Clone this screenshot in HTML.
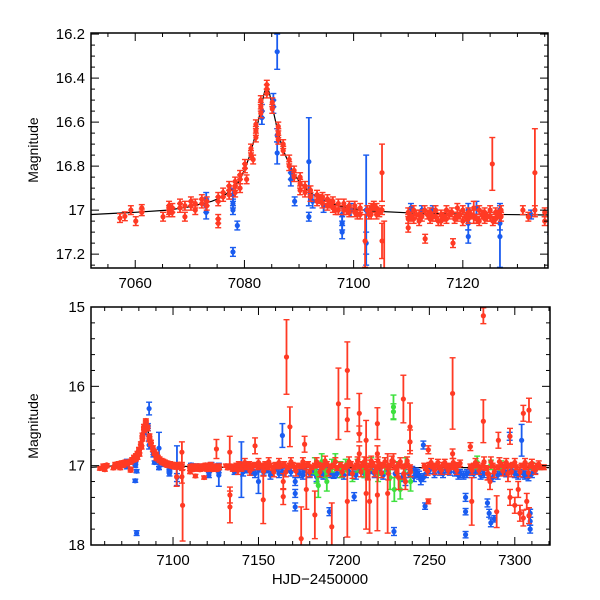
<!DOCTYPE html>
<html><head><meta charset="utf-8"><style>
html,body{margin:0;padding:0;background:#fff;}
svg{display:block;font-family:"Liberation Sans",sans-serif;}
</style></head><body>
<svg id="chart" width="600" height="600" xmlns="http://www.w3.org/2000/svg">
<defs>
<clipPath id="clipTop"><rect x="91" y="33" width="457" height="235"/></clipPath>
<clipPath id="clipBot"><rect x="91" y="307" width="459" height="238"/></clipPath>
</defs>
<g id="topPanel"></g>
<g id="botPanel"></g>
<text x="320" y="584" font-size="15" text-anchor="middle">HJD−2450000</text>
<text transform="translate(38,150) rotate(-90)" font-size="14" text-anchor="middle">Magnitude</text>
<text transform="translate(38,426) rotate(-90)" font-size="14" text-anchor="middle">Magnitude</text>
</svg>
<script>
const modelT=[7052,7060,7066,7070,7074,7076,7078,7079,7080,7081,7082,7083,7083.6,7084.1,7084.6,7085.2,7086,7087,7088,7089,7090,7092,7094,7097,7100,7104,7110,7120,7136,7200,7320];
const modelM=[17.02,17.01,17.0,16.985,16.96,16.94,16.9,16.87,16.82,16.75,16.66,16.54,16.47,16.43,16.47,16.54,16.63,16.72,16.78,16.83,16.87,16.92,16.95,16.98,16.995,17.005,17.012,17.018,17.022,17.025,17.025];
const redPts=[[7057.2,17.036,.02],[7058.1,17.028,.02],[7059.2,17.0,.02],[7060.1,17.05,.02],[7061.2,16.99,.015],[7061.2,17.01,.015],
[7065.1,17.03,.02],[7066.2,16.98,.02],[7066.2,17.0,.02],[7066.2,17.01,.02],[7066.8,16.99,.02],[7066.8,17.01,.02],[7068.2,16.97,.02],[7068.2,16.99,.02],[7069.1,17.03,.02],[7069.1,16.98,.02],[7070.2,16.96,.02],[7070.2,16.98,.02],[7071.0,16.97,.02],[7071.0,17.0,.02],[7072.2,16.95,.02],[7072.2,16.97,.02],[7073.1,16.96,.02],[7073.1,16.98,.02],
[7075.2,16.94,.02],[7075.2,16.96,.02],[7075.2,17.04,.02],[7075.2,17.06,.02],[7076.1,16.92,.02],[7076.1,16.94,.02],[7077.2,16.89,.02],[7077.2,16.91,.02],[7077.2,16.93,.02],[7078.3,16.87,.02],[7078.3,16.89,.02],[7078.3,16.92,.02],[7079.2,16.84,.02],[7079.2,16.86,.02],[7079.2,16.90,.02],[7080.1,16.79,.02],[7080.1,16.81,.02],[7080.4,16.86,.02],[7081.2,16.72,.02],[7081.2,16.75,.02],[7081.6,16.77,.02],[7082.1,16.61,.02],[7082.1,16.64,.02],[7082.1,16.67,.02],[7083.0,16.50,.02],[7083.0,16.53,.02],[7083.0,16.56,.02],[7084.1,16.43,.02],[7084.1,16.45,.02],[7084.1,16.47,.02],[7085.1,16.51,.02],[7085.1,16.54,.02],[7086.2,16.62,.02],[7086.2,16.65,.02],[7086.2,16.68,.02],[7087.1,16.70,.02],[7087.1,16.73,.02],[7088.2,16.77,.02],[7088.2,16.80,.02],[7089.1,16.82,.02],[7089.1,16.85,.02],[7090.2,16.85,.02],[7090.2,16.88,.02],[7090.2,16.91,.02],[7091.1,16.89,.02],[7091.1,16.92,.02],[7092.1,16.91,.02],[7092.1,16.94,.02],[7093.3,16.93,.02],[7093.3,16.96,.02],[7094.3,16.94,.02],[7094.3,16.97,.02],[7095.2,16.95,.02],[7095.2,16.98,.02],[7096.2,16.96,.02],[7096.2,16.99,.02],[7097.2,16.97,.02],[7097.2,17.0,.02],[7098.2,16.97,.02],[7098.2,17.0,.02],[7099.2,16.98,.02],[7099.2,17.01,.02],[7100.2,16.98,.02],[7100.2,17.01,.02],[7101.2,16.99,.02],[7101.2,17.02,.02],[7102.1,17.14,.12],[7102.5,17.0,.02],[7103.2,16.99,.02],[7103.2,17.02,.02],[7104.2,16.99,.02],[7104.2,17.02,.02],[7105.2,16.83,.13],[7105.2,17.0,.02],[7105.2,17.14,.08],[7105.6,17.5,.45],
[7093.8,16.95,.02],[7095.7,16.97,.02],[7096.7,17.0,.02],[7098.7,17.0,.02],[7100.7,17.02,.02],[7102.8,17.02,.02],[7103.7,16.98,.02],[7104.7,17.01,.02],
[7110,17.01,.02],[7110,17.04,.02],[7110,17.08,.02],[7111,17.0,.02],[7111,17.04,.02],[7112,17.02,.02],[7112,17.05,.02],[7113,17.0,.02],[7113.1,17.13,.02],[7114,17.01,.02],[7114,17.04,.02],[7115,17.0,.02],[7115,17.03,.02],[7116,17.02,.02],[7116,17.05,.02],[7117,17.0,.02],[7117,17.04,.02],[7118,17.01,.02],[7118.2,17.15,.02],[7119,16.99,.02],[7119,17.03,.02],[7120,17.0,.02],[7120,17.05,.02],[7121,17.01,.02],[7121,17.04,.02],[7122,16.99,.03],[7122,17.03,.03],[7123,17.0,.02],[7123,17.05,.02],[7124,17.01,.02],[7124,17.04,.02],[7125,17.0,.02],[7125,17.03,.02],[7125.4,16.79,.12],[7126,17.01,.02],[7126,17.04,.02],[7127,17.0,.02],[7127,17.03,.02],
[7110.5,17.03,.02],[7111.5,17.02,.02],[7112.5,17.03,.02],[7113.5,17.02,.02],[7114.5,17.03,.02],[7115.5,17.05,.02],[7116.5,17.03,.02],[7117.5,17.02,.02],[7118.5,17.04,.02],[7119.5,17.02,.02],[7120.5,17.03,.02],[7121.5,17.02,.02],[7122.5,17.04,.02],[7123.5,17.02,.02],[7124.5,17.03,.02],[7125.5,17.05,.02],[7126.5,17.02,.02],
[7131,17.0,.02],[7132,17.03,.02],[7133.2,16.83,.2],[7133.2,17.0,.02],[7133.3,17.37,.1],[7133.3,17.52,.2],[7135,17.01,.02],[7135,17.05,.02],
[7137,17.0,.03],[7137,17.03,.03],[7138.5,16.98,.03],[7140,17.01,.03],[7140,17.04,.03],[7141.5,16.99,.03],[7143,17.02,.03],[7144.5,16.98,.03],[7146,17.0,.03],[7146,17.03,.03],[7148,16.75,.1],[7148,16.99,.03],[7149.5,17.02,.03],[7151,17.0,.03],[7152.8,17.43,.3],[7152.8,17.01,.03],[7154,16.98,.03],[7155.5,17.02,.03],[7157,17.0,.03],[7158.5,17.03,.03],[7160,16.99,.03],[7161.5,17.01,.03],[7163,17.0,.03],[7164.5,17.2,.1],[7164.5,17.39,.1],[7165,16.98,.03],[7166.4,15.63,.47],[7167,17.02,.03],[7168.4,16.51,.25],[7168.4,17.0,.03],[7170,16.99,.03],[7171.5,17.03,.03],[7173,17.0,.03],[7175,17.92,.4],[7175,17.01,.03],[7177,16.73,.1],[7177,17.0,.03],[7178,17.3,.25],[7179,16.98,.03],[7181,17.02,.03],[7183,17.62,.3],[7183,17.0,.03],[7185,16.99,.03],[7187,17.02,.03],[7188,17.0,.03],[7190,16.98,.03],[7192.9,17.77,.3],[7192,17.01,.03],[7194,17.0,.03],[7196,17.03,.03],[7196.8,16.22,.45],[7198,16.99,.03],[7200,17.02,.03],[7202,15.8,.36],[7202,16.42,.15],[7202,17.45,.45],[7202,17.0,.03],[7204,16.98,.03],[7206,17.02,.03],[7207.5,17.0,.03],[7209,16.34,.25],[7209,16.6,.1],[7209,16.85,.1],[7209,17.01,.03],[7211,16.99,.03],[7213,16.68,.25],[7213,17.35,.45],[7213,17.02,.03],[7215,17.45,.4],[7215,17.0,.03],[7217,16.98,.03],[7219.6,16.47,.2],[7219.6,16.85,.1],[7219.6,17.37,.45],[7219.6,17.02,.03],[7221,17.0,.03],[7223,16.99,.03],[7225.6,17.35,.5],[7225.6,17.02,.03],[7227,17.0,.03],[7229,16.95,.1],[7230.5,17.02,.03],[7232,17.15,.15],[7232,16.99,.03],[7234.8,16.16,.3],[7234.8,17.01,.03],[7236,17.2,.1],[7237,17.0,.03],[7238.7,16.51,.3],[7238.7,16.7,.15],[7238.7,17.02,.03],[7247,17.0,.03],[7248,17.03,.03],[7249.4,16.8,.05],[7249.4,17.45,.03],[7250,16.99,.03],[7252,17.01,.03],[7254,17.0,.03],[7256,17.02,.03],[7258,16.99,.03],[7260,17.01,.03],[7262,17.0,.03],[7263.6,16.09,.45],[7263.6,16.85,.06],[7263.6,17.02,.03],[7265,17.0,.03],[7267,16.99,.03],[7274,16.76,.05],[7274.8,17.45,.3],[7274,17.01,.03],[7276,17.0,.03],[7278,16.99,.03],[7280,17.02,.03],[7281.6,15.11,.1],[7281.6,16.44,.27],[7281.6,17.0,.03],[7283,17.03,.03],[7284.5,17.1,.08],[7285.5,17.2,.1],[7287,17.0,.03],[7289.4,17.58,.2],[7290.4,16.68,.1],[7290,17.02,.03],[7292,16.99,.03],[7294,17.01,.03],[7296,17.1,.1],[7297.2,16.63,.1],[7297.2,17.4,.1],[7297,17.0,.03],[7299,16.99,.03],[7300,17.5,.1],[7301,17.02,.03],[7302,17.3,.1],[7303,17.6,.1],[7304,17.0,.03],[7305,16.34,.1],[7305,17.66,.1],[7306,17.02,.03],[7307,17.45,.1],[7308.3,16.3,.15],[7308.3,17.63,.1],[7309,17.0,.03],[7311,17.03,.03],[7313,17.0,.03],[7315,17.02,.03]];
const redBandExtra=[[7138,17.06,.05],[7142,16.96,.05],[7145,17.07,.05],[7150,16.96,.05],[7153,17.07,.06],[7156,16.95,.05],[7159,17.08,.06],[7162,16.96,.05],[7166,17.08,.06],[7169,16.95,.05],[7172,17.07,.06],[7176,16.95,.05],[7180,17.08,.06],[7184,16.95,.05],[7186,17.08,.06],[7189,16.94,.06],[7191,17.07,.06],[7195,16.95,.05],[7199,17.08,.06],[7203,16.95,.06],[7205,17.1,.06],[7208,16.94,.05],[7210,17.08,.06],[7212,16.95,.06],[7214,17.1,.08],[7216,16.94,.06],[7218,17.08,.06],[7220,16.95,.06],[7222,17.09,.06],[7224,16.95,.05],[7226,17.1,.08],[7228,16.94,.06],[7231,17.08,.06],[7233,16.95,.05],[7235,17.1,.07],[7237,16.94,.05],[7239,17.08,.06],[7249,17.07,.05],[7251,16.96,.05],[7253,17.06,.05],[7255,16.96,.04],[7257,17.06,.05],[7259,16.96,.04],[7261,17.06,.05],[7264,16.96,.05],[7266,17.06,.05],[7268,16.97,.04],[7275,17.06,.05],[7277,16.96,.05],[7279,17.06,.05],[7282,16.95,.06],[7284,17.1,.08],[7286,16.95,.06],[7288,17.08,.07],[7291,16.95,.05],[7293,17.07,.06],[7295,16.96,.05],[7298,17.08,.06],[7300,16.96,.05],[7303,17.08,.06],[7306,16.96,.05],[7308,17.09,.06],[7310,16.97,.05],[7312,17.06,.05],[7314,16.98,.04],[7317,17.02,.03]];
const bluePts=[[7073.0,16.95,.03],[7073.0,16.98,.03],[7073.0,17.01,.03],[7077.9,16.93,.03],[7077.9,16.97,.02],[7077.9,17.0,.02],[7077.9,17.19,.02],[7078.7,17.07,.02],[7078.7,17.85,.03],[7083.2,16.55,.03],[7083.2,16.58,.03],[7085.3,16.50,.03],[7085.3,16.53,.03],[7086.0,16.28,.08],[7086.0,16.66,.03],[7086.0,16.74,.05],[7088.5,16.83,.03],[7088.5,16.86,.03],[7089.2,16.96,.02],[7091.8,16.78,.2],[7091.8,17.03,.02],[7092.5,16.96,.03],[7094.5,16.98,.03],[7097.9,17.02,.03],[7097.9,17.06,.03],[7097.9,17.1,.03],[7099.5,17.0,.03],[7102.3,17.0,.25],[7102.3,17.15,.05],[7110.5,16.99,.02],[7112.5,17.0,.02],[7114.5,17.0,.02],[7121.0,17.0,.03],[7121.0,17.06,.03],[7121.0,17.12,.03],[7122.5,16.99,.03],[7126.8,17.0,.03],[7126.8,17.06,.03],[7126.8,17.12,.14],[7132.5,17.02,.02],[7136.0,17.08,.03],
[7140,17.05,.35],[7143,17.06,.03],[7146,17.08,.04],[7150,17.2,.15],[7150,17.05,.03],[7155,17.06,.03],[7158,17.1,.03],[7160,17.04,.03],[7164,16.62,.15],[7164,17.08,.04],[7167,17.05,.03],[7171.5,17.2,.05],[7171.5,17.35,.05],[7171.5,17.52,.05],[7174,17.1,.05],[7177,17.05,.04],[7182,17.08,.04],[7186,17.1,.05],[7189,17.06,.04],[7191.5,17.58,.05],[7194,17.12,.04],[7198,17.05,.04],[7203,17.08,.04],[7206,17.39,.05],[7209,17.05,.04],[7212,17.1,.05],[7216,17.06,.04],[7221,17.08,.04],[7226,17.06,.04],[7229.3,17.83,.05],[7230,17.1,.05],[7234,17.15,.05],[7236,17.2,.05],[7240,17.05,.04],[7242,17.08,.05],[7244,17.12,.05],[7246.5,16.74,.05],[7246.5,17.15,.05],[7247.5,17.51,.04],[7250,17.06,.04],[7253,17.1,.05],[7256,17.08,.04],[7260,17.05,.04],[7265,17.08,.05],[7268,17.1,.05],[7270,17.12,.05],[7271.2,17.4,.05],[7271.2,17.58,.04],[7271.2,17.87,.04],[7274,17.08,.04],[7278,17.06,.04],[7282,17.1,.05],[7284,17.47,.05],[7285,17.6,.05],[7286,17.72,.05],[7287,17.15,.05],[7288,17.67,.04],[7292,17.08,.04],[7295,17.1,.04],[7298,17.06,.04],[7297,16.63,.05],[7300,17.1,.05],[7304,16.68,.2],[7306,17.12,.05],[7309,17.6,.05],[7309,17.7,.05],[7309,17.8,.05],[7312,17.06,.04],
[7141,17.08,.05],[7148,17.1,.05],[7153,17.08,.04],[7157,17.12,.05],[7162,17.1,.05],[7169,17.08,.05],[7176,17.12,.05],[7180,17.1,.05],[7184,17.14,.06],[7188,17.12,.05],[7192,17.1,.05],[7196,17.1,.05],[7200,17.12,.05],[7207,17.12,.05],[7214,17.12,.05],[7218,17.1,.05],[7223,17.12,.05],[7238,17.1,.05],[7241,17.14,.06],[7243,17.1,.05],[7245,17.18,.06],[7248,17.1,.05],[7258,17.1,.05],[7262,17.08,.04],[7267,17.12,.05],[7272,17.1,.05],[7276,17.1,.05],[7280,17.12,.05],[7290,17.12,.05],[7294,17.08,.04],[7302,17.12,.05],[7305,17.1,.05],[7308,17.14,.05],[7310,17.1,.05]];
const greenPts=[[7183,17.0,.1],[7184,17.1,.12],[7185,17.25,.15],[7187,16.95,.1],[7189,17.05,.1],[7190,17.2,.12],[7193,17.0,.08],[7195,16.95,.1],[7198,17.05,.1],[7201,17.0,.08],[7205,17.1,.1],[7208,17.0,.08],[7212,17.05,.1],[7216,16.98,.08],[7220,17.1,.1],[7224,17.0,.1],[7227,17.15,.15],[7229,16.26,.15],[7229,16.32,.1],[7229.5,17.3,.15],[7231,17.05,.1],[7233,17.3,.12],[7236,17.0,.1],[7239,17.2,.12],[7278,16.96,.08],[7286,16.99,.06],[7292,17.0,.06],[7310,17.0,.04],[7314,17.02,.03]];
const topXTicks=[7060,7080,7100,7120];
const topYTicks=[16.2,16.4,16.6,16.8,17,17.2];
const botXTicks=[7100,7150,7200,7250,7300];
const botYTicks=[15,16,17,18];

const NS='http://www.w3.org/2000/svg';
function mk(tag,attrs,parent){const e=document.createElementNS(NS,tag);for(const k in attrs)e.setAttribute(k,attrs[k]);parent.appendChild(e);return e;}

function panel(g,cfg){
  const sx=t=>cfg.x0+(t-cfg.tmin)/(cfg.tmax-cfg.tmin)*(cfg.x1-cfg.x0);
  const sy=m=>cfg.y0+(m-cfg.mmin)/(cfg.mmax-cfg.mmin)*(cfg.y1-cfg.y0);
  const data=mk('g',{'clip-path':'url(#'+cfg.clip+')'},g);
  let d='';modelT.forEach((t,i)=>{d+=(i?'L':'M')+sx(t).toFixed(1)+' '+sy(modelM[i]).toFixed(1);});
  const ml=mk('path',{d:d,fill:'none',stroke:'#000','stroke-width':1.2},data);
  
  
  const series=[[bluePts,'#1a5cf0','blue-series'],[greenPts,'#3de03d','green-series'],[redPts.concat(redBandExtra),'#ff3a24','red-series']];
  series.forEach(s=>{
    const sg=mk('g',{stroke:s[1],fill:s[1]},data);
    
    
    s[0].forEach(p=>{
      const x=sx(p[0]),y=sy(p[1]),ya=sy(p[1]-p[2]),yb=sy(p[1]+p[2]);
      const pt=mk('g',{},sg);
      
      
      mk('line',{x1:x,x2:x,y1:ya,y2:yb,'stroke-width':1.8},pt);
      mk('line',{x1:x-3,x2:x+3,y1:ya,y2:ya,'stroke-width':1.4},pt);
      mk('line',{x1:x-3,x2:x+3,y1:yb,y2:yb,'stroke-width':1.4},pt);
      mk('circle',{cx:x,cy:y,r:2.6,stroke:'none'},pt);
    });
  });
  mk('rect',{x:cfg.x0,y:cfg.y0,width:cfg.x1-cfg.x0,height:cfg.y1-cfg.y0,fill:'none',stroke:'#000','stroke-width':1.5},g);
  const ax=mk('g',{stroke:'#000','stroke-width':1},g);
  for(let t=Math.ceil(cfg.tmin/cfg.xminor)*cfg.xminor;t<=cfg.tmax;t+=cfg.xminor){
    const major=Math.abs(t/cfg.xmajor-Math.round(t/cfg.xmajor))<1e-6;const L=major?8:4;const x=sx(t);
    mk('line',{x1:x,x2:x,y1:cfg.y1,y2:cfg.y1-L},ax);mk('line',{x1:x,x2:x,y1:cfg.y0,y2:cfg.y0+L},ax);
  }
  for(let k=Math.ceil(cfg.mmin/cfg.yminor-1e-6);k*cfg.yminor<=cfg.mmax+1e-6;k++){
    const m=k*cfg.yminor;const major=Math.abs(m/cfg.ymajor-Math.round(m/cfg.ymajor))<1e-6;const L=major?8:4;const y=sy(m);
    mk('line',{x1:cfg.x0,x2:cfg.x0+L,y1:y,y2:y},ax);mk('line',{x1:cfg.x1,x2:cfg.x1-L,y1:y,y2:y},ax);
  }
  cfg.xt.forEach(t=>{const e=mk('text',{x:sx(t),y:cfg.y1+20,'font-size':15,'text-anchor':'middle'},g);e.textContent=t;
    
    });
  cfg.yt.forEach(m=>{const e=mk('text',{x:cfg.x0-6,y:sy(m)+5,'font-size':15,'text-anchor':'end'},g);e.textContent=m;
    
    });
}
panel(document.getElementById('topPanel'),{x0:91,x1:548,y0:33,y1:268,tmin:7051.9,tmax:7135.6,mmin:16.195,mmax:17.263,xminor:5,xmajor:20,yminor:0.05,ymajor:0.2,clip:'clipTop',xt:topXTicks,yt:topYTicks});
panel(document.getElementById('botPanel'),{x0:91,x1:550,y0:307,y1:545,tmin:7052,tmax:7320.6,mmin:15,mmax:18,xminor:10,xmajor:50,yminor:0.2,ymajor:1,clip:'clipBot',xt:botXTicks,yt:botYTicks});
</script>
</body></html>
